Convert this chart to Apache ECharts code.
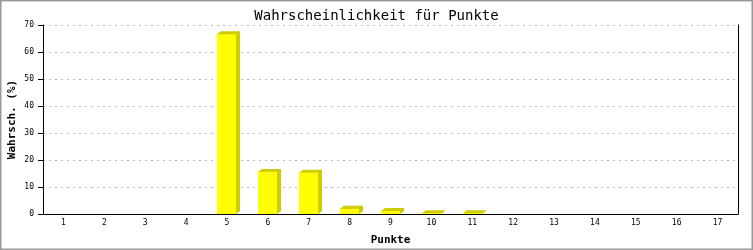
<!DOCTYPE html>
<html><head><meta charset="utf-8">
<script src="https://cdn.jsdelivr.net/npm/echarts@6/dist/echarts.min.js"></script>
<style>html,body{margin:0;padding:0;background:#fff}#c{width:753px;height:250px}</style>
</head><body><div id="c"></div>
<script>
const categories = ['1','2','3','4','5','6','7','8','9','10','11','12','13','14','15','16','17'];
const values = [0,0,0,0,66.6,15.6,15.3,1.9,1.1,0.3,0.3,0,0,0,0,0,0];
const yTicks = [0,10,20,30,40,50,60,70];

const chart = echarts.init(document.getElementById('c'), null, {renderer:'canvas'});
const mono = 'DejaVu Sans Mono';
chart.setOption({
  animation:false,
  title:{text:'Wahrscheinlichkeit für Punkte', left:'center', top:4,
    textStyle:{fontFamily:mono, fontSize:14, fontWeight:'normal', color:'#000'}},
  grid:{left:43, right:15, top:25, bottom:36, containLabel:false, outerBoundsMode:'none'},
  graphic:[{type:'rect', shape:{x:0.5,y:0.5,width:752,height:249}, style:{fill:'none', stroke:'#999', lineWidth:2}, silent:true}],
  xAxis:{type:'category', data:categories, boundaryGap:true,
    name:'Punkte', nameLocation:'middle', nameGap:21, nameMoveOverlap:false,
    nameTextStyle:{fontFamily:mono, fontSize:11, fontWeight:'bold', color:'#000'},
    axisLine:{lineStyle:{color:'#000', width:1}}, axisTick:{show:false},
    axisLabel:{fontFamily:mono, fontSize:8, color:'#000', margin:5}},
  yAxis:[{type:'value', min:yTicks[0], max:yTicks[yTicks.length-1], interval:10,
    name:'Wahrsch. (%)', nameLocation:'middle', nameGap:25, nameMoveOverlap:false,
    nameTextStyle:{fontFamily:mono, fontSize:11, fontWeight:'bold', color:'#000'},
    axisLine:{show:true, lineStyle:{color:'#000', width:1}},
    axisTick:{show:true, inside:false, length:5, lineStyle:{color:'#000'}},
    axisLabel:{fontFamily:mono, fontSize:8, color:'#000', margin:9},
    splitLine:{show:true, lineStyle:{color:'#bbb', type:[2,4], width:1}}},
   {type:'value', min:0, max:70, interval:10, position:'right',
    axisLine:{show:true, lineStyle:{color:'#000', width:1}}, axisTick:{show:false},
    axisLabel:{show:false}, splitLine:{show:false}}],
  series:[{type:'custom', data:values.map((v,i)=>[i,v]),
    renderItem:function(params, api){
      const p0 = api.coord([api.value(0), 0]);
      const p1 = api.coord([api.value(0), api.value(1)]);
      const w = 19, dx = 4, dy = 3;
      const x = Math.round(p0[0] - w/2);
      const yb = p0[1], yt = p1[1];
      const h = yb - yt;
      if (api.value(1) <= 0) return {type:'group', children:[]};
      return {type:'group', children:[
        {type:'polygon', shape:{points:[[x,yt],[x+dx,yt-dy],[x+w+dx,yt-dy],[x+w+dx,yb-dy],[x+w,yb],[x,yb]]}, style:{fill:'#cccc00'}},
        {type:'rect', shape:{x:x, y:yt, width:w, height:h}, style:{fill:'#ffff00'}}
      ]};
    }}]
});
</script></body></html>
